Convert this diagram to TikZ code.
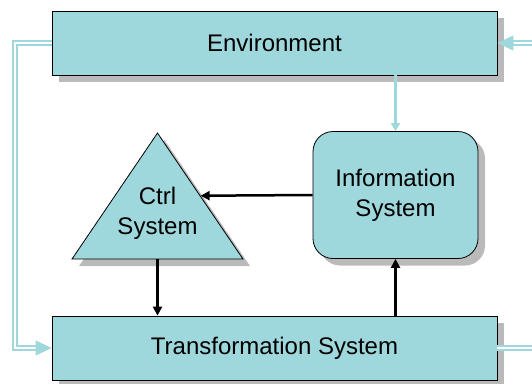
\documentclass[tikz,border=0pt]{standalone}
\usepackage{fontspec}
\setmainfont{Liberation Sans}
\usetikzlibrary{arrows.meta}
\usetikzlibrary{shapes.geometric}
\usetikzlibrary{shadows}
\definecolor{boxfill}{HTML}{9ED8DC}
\definecolor{flowline}{HTML}{9ED8DC}
\definecolor{shade}{HTML}{BABABA}

\begin{document}
\begin{tikzpicture}[x=1pt, y=-1pt,
        every node/.style={font=\fontsize{24}{30}\selectfont, align=center, inner sep=0pt},
        block/.style={draw=black, line width=0.8pt, fill=boxfill,
            drop shadow={shadow xshift=7pt, shadow yshift=-7pt, fill=shade, opacity=1}},
        flow/.style={-{Triangle[length=9pt, width=9pt]}, line width=2.5pt},
        loop/.style={draw=flowline, line width=1.6pt, double=white, double distance=2.2pt},
        looptip/.style={draw=flowline, line width=1pt, -{Triangle[length=16pt, width=15pt]}}
    ]
        \clip (0,0) rectangle (532,383);

        % The four systems
        \node[block, minimum width=445pt, minimum height=64pt] (env) at (274.5,43) {Environment};
        \node[block, minimum width=445pt, minimum height=64pt] (trans) at (274.5,348) {Transformation System};
        \node[block, rounded corners=20pt, minimum width=165pt, minimum height=127pt] (info) at (395.5,195) {Information\\System};
        \node[block, isosceles triangle, isosceles triangle stretches, shape border rotate=90,
            minimum width=171pt, minimum height=126pt, anchor=apex,
            label={center:Ctrl\\System}] (ctrl) at (157.5,132) {};

        % Inner flows
        \draw[flow] (info.west) -- (ctrl.right side);
        \draw[flow] (ctrl.south) -- (trans.north -| ctrl.south);
        \draw[flow] (trans.north -| info.south) -- (info.south);
        \draw[looptip, line width=2.5pt, -{Triangle[length=8pt, width=9pt]}] (env.south -| info.north) -- (info.north);

        % Feedback loops
        \coordinate (lefttip) at ([xshift=-16pt]trans.west);
        \draw[loop] (env.west) -| (15,0 |- trans.west) -- (lefttip);
        \draw[looptip] (lefttip) -- (trans.west);
        \coordinate (righttip) at ([xshift=16pt]env.east);
        \draw[loop] (trans.east) -- ++(60,0) |- (righttip);
        \draw[looptip] (righttip) -- (env.east);
    \end{tikzpicture}
\end{document}
